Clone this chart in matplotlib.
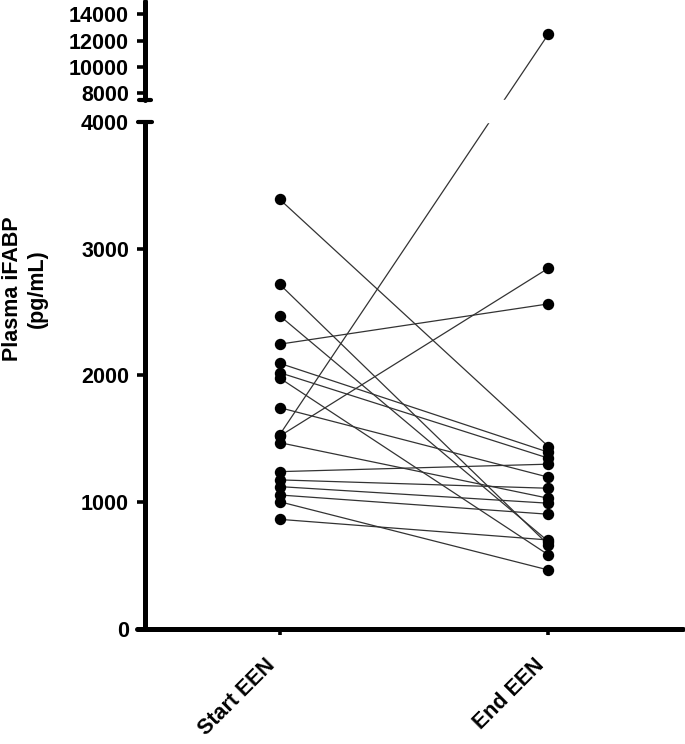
import numpy as np
import matplotlib
matplotlib.use("Agg")
import matplotlib.pyplot as plt

plt.rcParams['font.family'] = ['Liberation Sans', 'DejaVu Sans']
plt.rcParams['font.weight'] = 'bold'

# paired values, start of EEN -> end of EEN (pg/mL)
start_een = [3390, 2720, 2472, 2246, 2096, 2022, 1980, 1746, 1530, 1520,
             1470, 1241, 1176, 1123, 1057, 1004, 865]
end_een = [1438, 663, 690, 2564, 1394, 1347, 584, 1197, 12500, 2846,
           1031, 1300, 1110, 992, 905, 465, 702]

group_labels = ["Start EEN", "End EEN"]
low_ticks = [0, 1000, 2000, 3000, 4000]
high_ticks = [8000, 10000, 12000, 14000]

# broken axis: 0-4000 linear, gap up to 7500, then squeezed 7500-15000
BREAK_LO, BREAK_HI = 4000, 7500
GAP = 173.6
SQUEEZE = 0.10388


def fwd(v):
    v = np.asarray(v, dtype=float)
    mid = BREAK_LO + (v - BREAK_LO) / (BREAK_HI - BREAK_LO) * GAP
    hi = BREAK_LO + GAP + (v - BREAK_HI) * SQUEEZE
    return np.where(v <= BREAK_LO, v, np.where(v >= BREAK_HI, hi, mid))


def inv(u):
    u = np.asarray(u, dtype=float)
    mid = BREAK_LO + (u - BREAK_LO) / GAP * (BREAK_HI - BREAK_LO)
    hi = BREAK_HI + (u - BREAK_LO - GAP) / SQUEEZE
    return np.where(u <= BREAK_LO, u, np.where(u >= BREAK_LO + GAP, hi, mid))


fig = plt.figure(figsize=(6.85, 7.44), dpi=100)
ax = fig.add_axes([145 / 685, 115 / 744, 538 / 685, 628 / 744])
ax.set_yscale('function', functions=(fwd, inv))

for s, e in zip(start_een, end_een):
    ax.plot([1, 2], [s, e], color='#333333', lw=0.9, zorder=2)
    ax.plot([1, 2], [s, e], ls='none', marker='o', ms=7.2,
            color='black', zorder=3)

# blank out the break region
ax.axhspan(BREAK_LO, BREAK_HI, color='white', zorder=4)

ax.set_xlim(0.5, 2.5)
ax.set_ylim(0, 15000)

for sp in ax.spines.values():
    sp.set_visible(False)

# hand-drawn spines with the break
kw = dict(color='black', clip_on=False, zorder=6, solid_capstyle='round')
ax.plot([0.5, 0.5], [0, BREAK_LO], lw=3.6, **kw)
ax.plot([0.5, 0.5], [BREAK_HI, 15000], lw=3.6, **kw)
ax.plot([0.474, 0.526], [BREAK_LO, BREAK_LO], lw=3.0, **kw)
ax.plot([0.476, 0.524], [BREAK_HI, BREAK_HI], lw=3.0, **kw)
ax.plot([0.47, 2.5], [0, 0], lw=3.6, **kw)

ax.set_yticks(low_ticks + high_ticks)
ax.set_yticklabels([str(t) for t in low_ticks + high_ticks])
ax.set_xticks([1, 2])
ax.set_xticklabels(group_labels, rotation=45, ha='right')

ax.tick_params(axis='y', direction='out', length=5.5, width=2.6,
               pad=6, labelsize=15.5)
ax.tick_params(axis='x', direction='out', length=4.5, width=2.6,
               pad=14, labelsize=15.5)

fig.text(25 / 685, 455 / 744, "Plasma iFABP\n(pg/mL)", rotation=90,
         ha='center', va='center', multialignment='center',
         fontsize=15.5, fontweight='bold')

fig.savefig("out.png", dpi=100)
